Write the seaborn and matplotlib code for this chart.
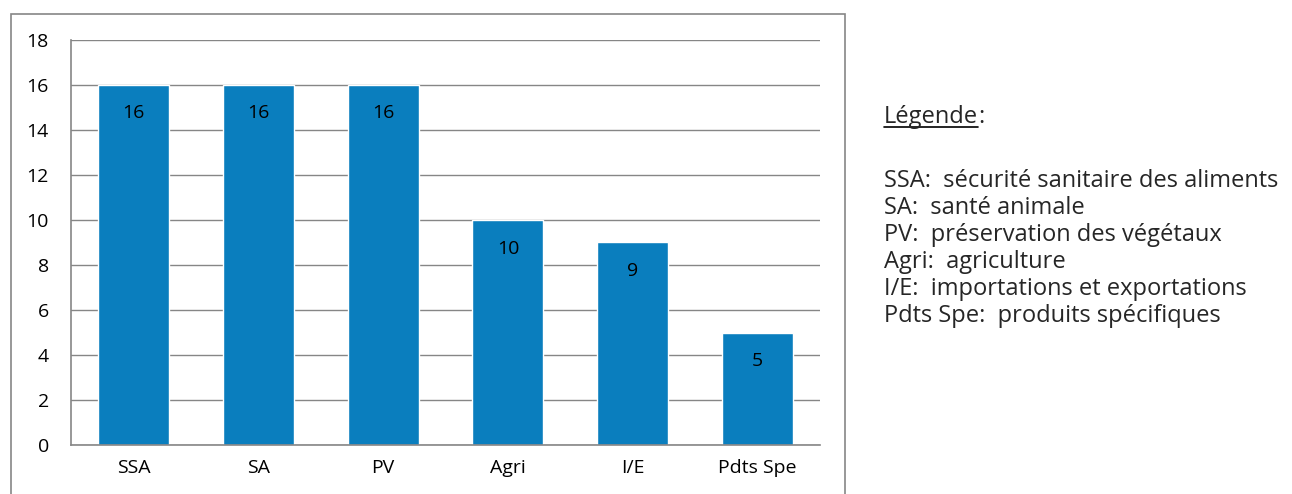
import matplotlib
matplotlib.use('Agg')
import matplotlib.pyplot as plt
import seaborn as sns
from matplotlib.patches import Rectangle
from matplotlib.lines import Line2D

# données
categories = ['SSA', 'SA', 'PV', 'Agri', 'I/E', 'Pdts Spe']
valeurs = [16, 16, 16, 10, 9, 5]
yticks = [0, 2, 4, 6, 8, 10, 12, 14, 16, 18]
legende = [
    'SSA:  sécurité sanitaire des aliments',
    'SA:  santé animale',
    'PV:  préservation des végétaux',
    'Agri:  agriculture',
    'I/E:  importations et exportations',
    'Pdts Spe:  produits spécifiques',
]

sns.set_style('white')
plt.rcParams['font.family'] = ['Open Sans', 'DejaVu Sans']

fig = plt.figure(figsize=(12.92, 4.94), dpi=100)
ax = fig.add_axes([71/1292, 1-445/494, (820-71)/1292, (445-40)/494])

sns.barplot(x=categories, y=valeurs, color='#0A7EBE', saturation=1, width=0.57, ax=ax)
ax.bar_label(ax.containers[0], padding=-27, fontsize=14, color='black')

ax.set_ylim(0, 18)
ax.set_yticks(yticks)
ax.set_xlim(-0.5, 5.5)
ax.yaxis.grid(True, color='#868686', lw=1)
ax.set_axisbelow(True)
for s in ['top', 'right']:
    ax.spines[s].set_visible(False)
for s in ['left', 'bottom']:
    ax.spines[s].set_color('#868686')
    ax.spines[s].set_linewidth(1.2)
ax.tick_params(axis='both', length=0, labelsize=14, labelcolor='black')
ax.tick_params(axis='y', pad=16)
ax.tick_params(axis='x', pad=10)
ax.set_xlabel('')
ax.set_ylabel('')

# cadre du graphique
fig.patches.append(Rectangle((11/1292, -0.05), 834/1292, 1-14/494+0.05,
                             transform=fig.transFigure, fill=False,
                             edgecolor='#868686', lw=1.2))

# légende texte
x0 = 884/1292
fs = 17
t = fig.text(x0, 1-123/494, 'Légende', fontsize=fs, va='baseline', ha='left')
fig.canvas.draw()
bb = t.get_window_extent().transformed(fig.transFigure.inverted())
fig.text(bb.x1, 1-123/494, ':', fontsize=fs, va='baseline', ha='left')
fig.lines.append(Line2D([bb.x0, bb.x1], [1-127/494, 1-127/494],
                        transform=fig.transFigure, color='black', lw=1.2))
y = 187
for ligne in legende:
    fig.text(x0, 1-y/494, ligne, fontsize=fs, va='baseline', ha='left')
    y += 27

fig.savefig('out.png', dpi=100)
